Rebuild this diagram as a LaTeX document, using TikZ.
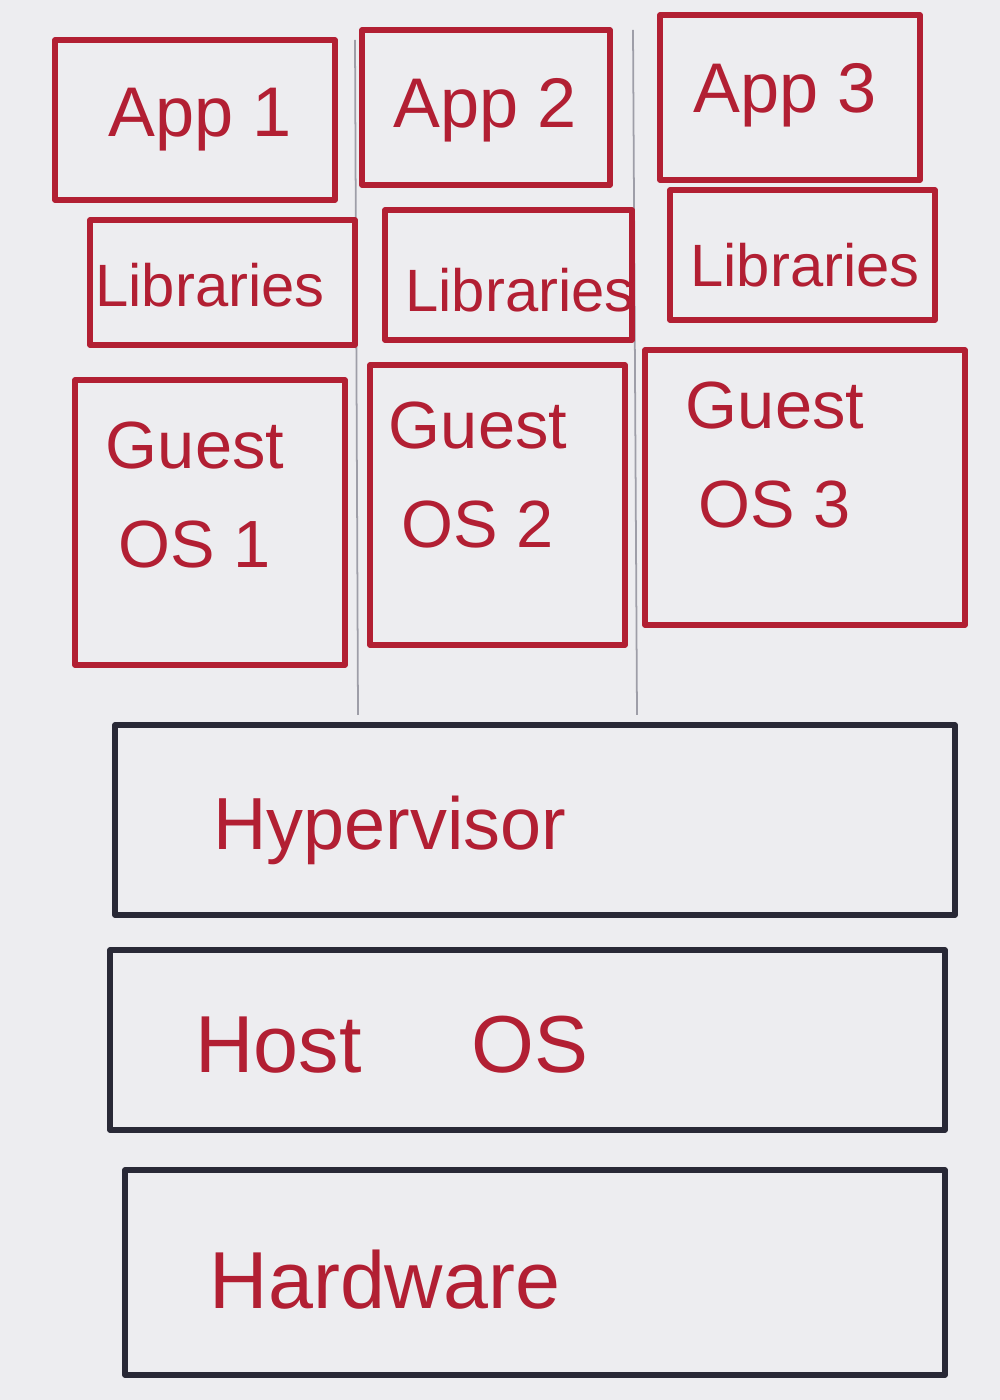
\documentclass[tikz,border=0pt]{standalone}
\usepackage{fontspec}
\setmainfont{Liberation Sans}
\definecolor{PaperClr}{rgb}{0.93,0.93,0.94}
\definecolor{InkRed}{rgb}{0.70,0.12,0.20}
\definecolor{InkBlack}{rgb}{0.16,0.16,0.21}
\definecolor{PencilClr}{rgb}{0.62,0.62,0.66}

\tikzset{
  redbox/.style={draw=InkRed,line width=1.5pt,line join=round},
  blackbox/.style={draw=InkBlack,line width=1.6pt,line join=round},
  pencil/.style={draw=PencilClr,line width=0.5pt},
  inktext/.style={text=InkRed,inner sep=0pt},
}

\begin{document}
\begin{tikzpicture}[x=1cm,y=1cm]
\fill[PaperClr] (0,0) rectangle (10,14);
\useasboundingbox (0,0) rectangle (10,14);

% pencil guide lines between the columns
\draw[pencil] (3.55,13.6) -- (3.58,6.85);
\draw[pencil] (6.33,13.7) -- (6.37,6.85);

% column 1
\draw[redbox] (0.55,13.6) rectangle (3.35,12.0);
\draw[redbox] (0.90,11.8) rectangle (3.55,10.55);
\draw[redbox] (0.75,10.2) rectangle (3.45,7.35);
% column 2
\draw[redbox] (3.62,13.7) rectangle (6.10,12.15);
\draw[redbox] (3.85,11.9) rectangle (6.32,10.6);
\draw[redbox] (3.70,10.35) rectangle (6.25,7.55);
% column 3
\draw[redbox] (6.60,13.85) rectangle (9.20,12.2);
\draw[redbox] (6.70,12.1) rectangle (9.35,10.8);
\draw[redbox] (6.45,10.5) rectangle (9.65,7.75);

% shared layers
\draw[blackbox] (1.15,6.75) rectangle (9.55,4.85);
\draw[blackbox] (1.10,4.5) rectangle (9.45,2.7);
\draw[blackbox] (1.25,2.3) rectangle (9.45,0.25);

% labels
\node (app1) [inktext,font=\fontsize{20}{24}\selectfont] at (2.00,12.8) {App 1};
\node (app2) [inktext,font=\fontsize{20}{24}\selectfont] at (4.85,12.9) {App 2};
\node (app3) [inktext,font=\fontsize{20}{24}\selectfont] at (7.85,13.05) {App 3};

\node (lib1) [inktext,font=\fontsize{17}{20}\selectfont] at (2.10,11.15) {Libraries};
\node (lib2) [inktext,font=\fontsize{17}{20}\selectfont] at (5.20,11.1) {Libraries};
\node (lib3) [inktext,font=\fontsize{17}{20}\selectfont] at (8.05,11.35) {Libraries};

\node (guest1) [inktext,font=\fontsize{19}{22}\selectfont,align=center] at (1.95,9.05) {Guest\\[6pt]OS 1};
\node (guest2) [inktext,font=\fontsize{19}{22}\selectfont,align=center] at (4.78,9.25) {Guest\\[6pt]OS 2};
\node (guest3) [inktext,font=\fontsize{19}{22}\selectfont,align=center] at (7.75,9.45) {Guest\\[6pt]OS 3};

\node (hyper) [inktext,font=\fontsize{21}{25}\selectfont] at (3.90,5.7) {Hypervisor};
\node (host) [inktext,font=\fontsize{23}{27}\selectfont] at (3.92,3.55) {Host\hspace{1.1cm}OS};
\node (hard) [inktext,font=\fontsize{23}{27}\selectfont] at (3.85,1.2) {Hardware};

\end{tikzpicture}
\end{document}
